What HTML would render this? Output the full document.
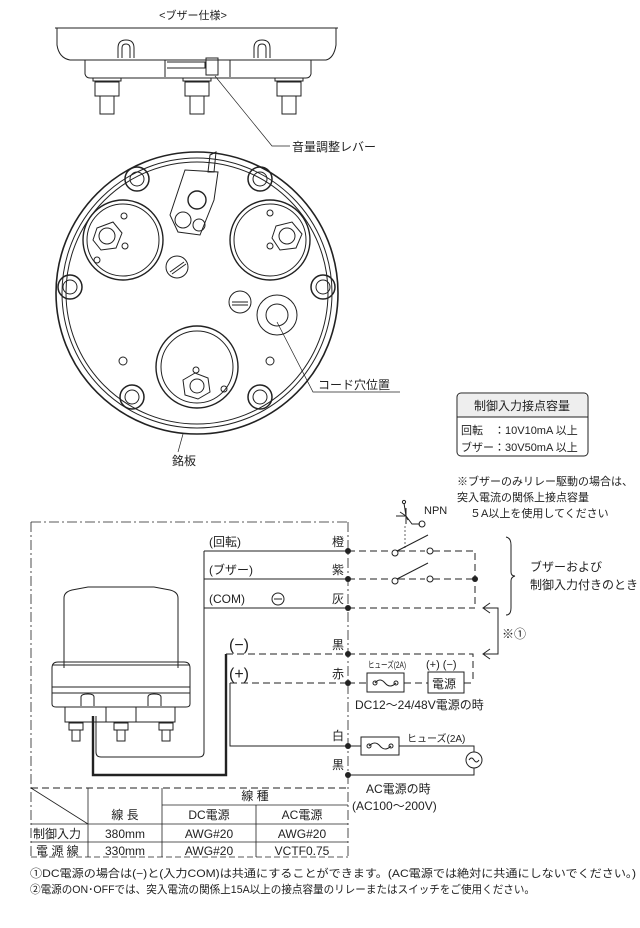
<!DOCTYPE html>
<html><head><meta charset="utf-8"><style>
html,body{margin:0;padding:0;background:#fff}
svg{display:block}
text{font-family:"Liberation Sans","Noto Sans CJK JP",sans-serif;fill:#222}
</style></head><body>
<svg width="640" height="928" viewBox="0 0 640 928" xmlns="http://www.w3.org/2000/svg">
<g stroke="#222" fill="none" stroke-width="1">
<!-- top side view -->
<path d="M55,28 L338,28"/>
<path d="M57,28 L57,45 Q59,58 70,60 L326,60 Q334,58 336,45 L336,28"/>
<path d="M85,60 L85,74 Q86,78 90,78 L306,78 Q310,78 311,74 L311,60"/>
<path d="M165,60 L165,77 M230,60 L230,77"/>
<path d="M167,62 L205,62 L205,68 L167,68"/>
<path d="M206,58 L218,58 L218,75 L206,75 Z"/>
<path d="M118,58 L118,48 Q118,40 126,40 Q134,40 134,48 L134,58 M122,58 L122,48 Q122,44 126,44 Q130,44 130,48 L130,58"/>
<path d="M254,58 L254,48 Q254,40 262,40 Q270,40 270,48 L270,58 M258,58 L258,48 Q258,44 262,44 Q266,44 266,48 L266,58"/>
<rect x="93" y="78" width="28" height="3"/><rect x="183" y="78" width="28" height="3"/><rect x="275" y="78" width="28" height="3"/>
<rect x="95" y="82" width="24" height="14"/><rect x="185" y="82" width="24" height="14"/><rect x="277" y="82" width="24" height="14"/>
<rect x="100" y="96" width="14" height="18"/><rect x="190" y="96" width="14" height="18"/><rect x="282" y="96" width="14" height="18"/>
<path d="M215,76 L272,146 L290,146" stroke-width="0.7"/>
<!-- bottom view circle -->
<circle cx="197" cy="293" r="141" stroke-width="1.6"/>
<circle cx="197" cy="293" r="135"/>
<circle cx="197" cy="293" r="131"/>
<g>
<circle cx="137" cy="179" r="12" stroke-width="1.5"/><circle cx="137" cy="179" r="7"/>
<circle cx="260" cy="179" r="12" stroke-width="1.5"/><circle cx="260" cy="179" r="7"/>
<circle cx="70" cy="287" r="12" stroke-width="1.5"/><circle cx="70" cy="287" r="7"/>
<circle cx="323" cy="287" r="12" stroke-width="1.5"/><circle cx="323" cy="287" r="7"/>
<circle cx="132" cy="397" r="12" stroke-width="1.5"/><circle cx="132" cy="397" r="7"/>
<circle cx="260" cy="397" r="12" stroke-width="1.5"/><circle cx="260" cy="397" r="7"/>
</g>
<circle cx="123" cy="240" r="40" stroke-width="1.4"/><circle cx="123" cy="240" r="36"/>
<polygon points="97,228 113,222 122,233 116,248 101,250 93,240"/><circle cx="107" cy="236" r="8"/>
<circle cx="124" cy="216" r="3"/><circle cx="125" cy="246" r="3"/><circle cx="97" cy="260" r="3"/>
<circle cx="270" cy="240" r="40" stroke-width="1.4"/><circle cx="270" cy="240" r="36"/>
<polygon points="276,226 292,222 302,234 296,248 280,250 272,238"/><circle cx="287" cy="236" r="8"/>
<circle cx="270" cy="213" r="3"/><circle cx="270" cy="246" r="3"/>
<circle cx="197" cy="367" r="41" stroke-width="1.4"/><circle cx="197" cy="367" r="36"/>
<polygon points="183,380 195,373 208,378 210,392 198,399 185,395"/><circle cx="197" cy="386" r="7"/>
<circle cx="196" cy="370" r="3"/><circle cx="224" cy="389" r="3"/>
<circle cx="123" cy="361" r="4"/><circle cx="270" cy="361" r="4"/>
<circle cx="177" cy="267" r="11"/><path d="M170,272 L184,262 M172,274 L186,264"/>
<circle cx="240" cy="302" r="11"/><path d="M232,302 L248,302 M232,305 L248,305"/>
<circle cx="277" cy="315" r="20"/><circle cx="277" cy="315" r="11"/>
<path d="M170,215 L185,170 L218,172 L214,200 L200,235 L178,232 Z"/>
<circle cx="197" cy="200" r="9" stroke-width="1.4"/><circle cx="183" cy="220" r="8"/><circle cx="199" cy="225" r="6"/>
<path d="M210,155 L216,152 L214,172 L208,172 Z"/>
<path d="M277,322 L313,392 L400,392" stroke-width="0.7"/>
<path d="M183,434 L178,452" stroke-width="0.7"/>
<!-- spec box -->
<rect x="457" y="393" width="131" height="63" rx="4"/>
<rect x="458" y="394" width="129" height="23" rx="3" fill="#eee" stroke="none"/>
<path d="M457,417 L588,417"/>
<!-- dash dot box -->
<path d="M31,522 L348,522 M31,522 L31,857" stroke-dasharray="10,3,2,3" stroke-width="0.8"/>
<path d="M348,522 L348,857" stroke-dasharray="10,3,2,3" stroke-width="0.8"/>
<!-- transistor -->
<path d="M396,516 L406,516 M406,508 L406,524 M400,512 L406,516 L412,524 L420,524 M406,516 L404,503 M406,516 L408,520"/>
<circle cx="404" cy="502" r="1.6"/><circle cx="422" cy="524" r="3"/>
<path d="M405,526 L405,548" stroke-dasharray="2,2" stroke-width="0.7"/>
<!-- wires -->
<path d="M204,551 L204,752 Q204,757 199,757 L101,757 Q96,757 96,752 L96,716"/>
<path d="M204,551 L348,551 M204,579 L348,579 M204,608 L348,608"/>
<path d="M348,551 L392,551 M398,551 L425,551 M433,551 L475,551 L475,608 M348,579 L392,579 M398,579 L425,579 M433,579 L475,579 M348,608 L475,608" stroke-dasharray="7,4"/>
<circle cx="395" cy="553" r="3"/><circle cx="430" cy="551" r="3"/><path d="M397,551 L428,535"/>
<circle cx="395" cy="581" r="3"/><circle cx="430" cy="579" r="3"/><path d="M397,579 L428,563"/>
<path d="M348,654 L473,654 L473,683 M348,683 L367,683 M404,683 L428,683 M464,683 L473,683" stroke-dasharray="7,4"/>
<path d="M226,654 L348,654 M230,683 L348,683" stroke-dasharray="7,4"/>
<path d="M226,654 L226,775 L93,775 L93,716" stroke-width="2.4"/>
<path d="M230,683 L230,746 L348,746"/>
<path d="M348,746 L361,746 M399,746 L474,746 L474,752 M474,768 L474,775 L348,775"/>
<rect x="361" y="737" width="38" height="18"/><path d="M369,746 Q375,740 380,746 Q385,752 391,746"/><circle cx="369" cy="746" r="2"/><circle cx="391" cy="746" r="2"/>
<circle cx="474" cy="760" r="8"/><path d="M469,760 Q471.5,756 474,760 Q476.5,764 479,760"/>
<rect x="367" y="673" width="37" height="19"/><path d="M375,683 Q380,677 385,683 Q390,689 396,683"/><circle cx="375" cy="683" r="2"/><circle cx="396" cy="683" r="2"/>
<rect x="428" y="672" width="36" height="21"/>
<path d="M490,603 L483,608 L490,613 M484,608 L498,608 L498,654 L484,654 M490,649 L483,654 L490,659"/>
<path d="M506,537 Q511,538 511,545 L511,572 Q511,576 515,576 Q511,577 511,581 L511,608 Q511,615 506,615"/>
<!-- lamp -->
<path d="M64,668 L64,598 Q64,592 72,590 L88,587 L154,587 L170,590 Q178,592 178,598 L178,668"/>
<path d="M52,668 Q52,662 58,662 L184,662 Q190,662 190,668 L190,704 Q190,707 186,707 L56,707 Q52,707 52,704 Z"/>
<path d="M52,665 L190,665 M52,687 L190,687 M52,693 L190,693"/>
<path d="M65,707 L65,722 L175,722 L175,707 M106,707 L106,722 M136,707 L136,722"/>
<path d="M81,706 L81,697 Q81,694 88,694 Q94,694 94,697 L94,706 M148,706 L148,697 Q148,694 154,694 Q161,694 161,697 L161,706"/>
<rect x="69" y="723" width="14" height="7"/><rect x="114" y="723" width="14" height="7"/><rect x="159" y="723" width="14" height="7"/>
<rect x="72" y="730" width="8" height="11"/><rect x="117" y="730" width="8" height="11"/><rect x="162" y="730" width="8" height="11"/>
<!-- table -->
<path d="M31,788 L348,788" stroke-dasharray="7,4"/>
<path d="M31,788 L88,824 M88,788 L88,857 M162,788 L162,857 M256,805 L256,857 M162,805 L348,805 M31,824 L348,824 M31,842 L348,842" stroke-width="0.8"/>
<path d="M31,857 L348,857" stroke-dasharray="6,3" stroke-width="0.8"/>
</g>
<g fill="#222">
<circle cx="348" cy="551" r="3"/><circle cx="348" cy="579" r="3"/><circle cx="348" cy="608" r="3"/>
<circle cx="348" cy="654" r="3"/><circle cx="348" cy="683" r="3"/><circle cx="348" cy="746" r="3"/><circle cx="348" cy="775" r="3"/>
<circle cx="475" cy="579" r="3"/>
</g>
<g font-size="12">
<text x="193" y="19" text-anchor="middle" font-size="11">&lt;ブザー仕様&gt;</text>
<text x="292" y="151">音量調整レバー</text>
<text x="318" y="389">コード穴位置</text>
<text x="172" y="465">銘板</text>
<text x="522" y="410" text-anchor="middle">制御入力接点容量</text>
<text x="461" y="434" font-size="11">回転　：10V10mA 以上</text>
<text x="461" y="451" font-size="11">ブザー：30V50mA 以上</text>
<text x="457" y="485" font-size="11">※ブザーのみリレー駆動の場合は、</text>
<text x="457" y="501" font-size="11">突入電流の関係上接点容量</text>
<text x="470" y="517" font-size="11">５A以上を使用してください</text>
<text x="424" y="514" font-size="11">NPN</text>
<text x="209" y="546">(回転)</text><text x="332" y="546">橙</text>
<text x="209" y="574">(ブザー)</text><text x="332" y="574">紫</text>
<text x="209" y="603">(COM)</text><text x="332" y="603">灰</text>
<circle cx="278" cy="599" r="6" fill="none" stroke="#222"/><path d="M274,599 L282,599" stroke="#222"/>
<text x="530" y="571">ブザーおよび</text>
<text x="530" y="589">制御入力付きのとき</text>
<text x="502" y="638">※①</text>
<text x="229" y="650" font-size="16">(−)</text><text x="332" y="649">黒</text>
<text x="229" y="679" font-size="16">(+)</text><text x="332" y="678">赤</text>
<text x="368" y="668" font-size="9" textLength="38" lengthAdjust="spacingAndGlyphs">ヒューズ(2A)</text>
<text x="426" y="668" font-size="11">(+) (−)</text>
<text x="432" y="688">電源</text>
<text x="355" y="709">DC12〜24/48V電源の時</text>
<text x="332" y="740">白</text><text x="332" y="769">黒</text>
<text x="407" y="742" font-size="10">ヒューズ(2A)</text>
<text x="366" y="793">AC電源の時</text>
<text x="352" y="810">(AC100〜200V)</text>
<text x="125" y="819" text-anchor="middle">線 長</text>
<text x="255" y="800" text-anchor="middle">線 種</text>
<text x="209" y="819" text-anchor="middle">DC電源</text>
<text x="302" y="819" text-anchor="middle">AC電源</text>
<text x="33" y="838">制御入力</text><text x="125" y="838" text-anchor="middle">380mm</text><text x="209" y="838" text-anchor="middle">AWG#20</text><text x="302" y="838" text-anchor="middle">AWG#20</text>
<text x="36" y="855">電 源 線</text><text x="125" y="855" text-anchor="middle">330mm</text><text x="209" y="855" text-anchor="middle">AWG#20</text><text x="302" y="855" text-anchor="middle">VCTF0.75</text>
<text x="30" y="877" font-size="11" textLength="606" lengthAdjust="spacingAndGlyphs">①DC電源の場合は(−)と(入力COM)は共通にすることができます。(AC電源では絶対に共通にしないでください。)</text>
<text x="30" y="893" font-size="11" textLength="505" lengthAdjust="spacingAndGlyphs">②電源のON･OFFでは、突入電流の関係上15A以上の接点容量のリレーまたはスイッチをご使用ください。</text>
</g>
</svg>
</body></html>
